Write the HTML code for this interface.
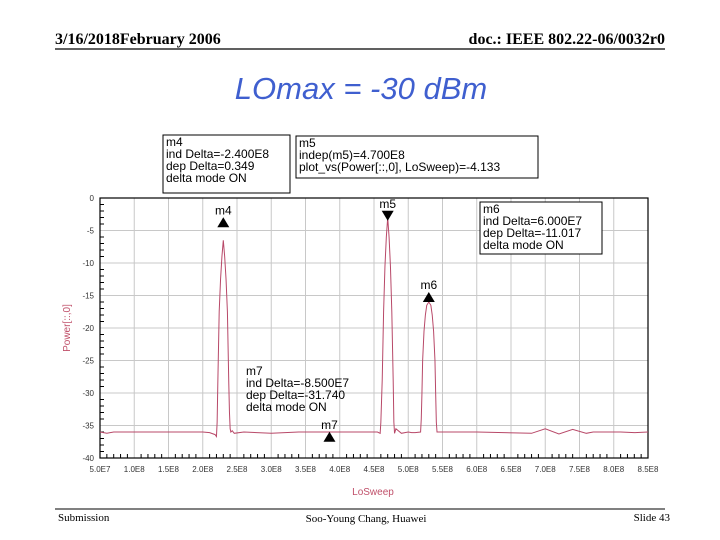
<!DOCTYPE html>
<html><head><meta charset="utf-8"><style>
body{margin:0;background:#fff;width:720px;height:540px;overflow:hidden;font-family:"Liberation Sans",sans-serif}
svg{display:block}
</style></head><body>
<svg width="720" height="540" xmlns="http://www.w3.org/2000/svg">
<text x="55" y="44" font-family="Liberation Serif" font-weight="bold" font-size="16">3/16/2018February 2006</text>
<text x="665" y="44" text-anchor="end" font-family="Liberation Serif" font-weight="bold" font-size="16">doc.: IEEE 802.22-06/0032r0</text>
<line x1="55" y1="49" x2="665" y2="49" stroke="#000" stroke-width="1.2"/>
<text x="361" y="99" text-anchor="middle" font-style="italic" font-size="31" fill="#3f5fcf">LOmax = -30 dBm</text>
<g id="chart"></g>
<line x1="55" y1="509" x2="665" y2="509" stroke="#000" stroke-width="1"/>
<text x="58" y="521" font-family="Liberation Serif" font-size="11">Submission</text>
<text x="366" y="522" text-anchor="middle" font-family="Liberation Serif" font-size="11">Soo-Young Chang, Huawei</text>
<text x="670" y="521" text-anchor="end" font-family="Liberation Serif" font-size="11">Slide 43</text>
</svg>
<script>
const xTicks=["5.0E7","1.0E8","1.5E8","2.0E8","2.5E8","3.0E8","3.5E8","4.0E8","4.5E8","5.0E8","5.5E8","6.0E8","6.5E8","7.0E8","7.5E8","8.0E8","8.5E8"];
const yTicks=[0,-5,-10,-15,-20,-25,-30,-35,-40];
const freqMHz=[50,60,70,160,200,210,218,220,221,222,224,226,228,230,232,234,236,238,239,240,241,243,246,260,300,340,380,420,455,459,460,462,464,466,468,470,472,474,476,478,479,480,482,490,500,505,510,518,519,520,521,523,525,527,530,533,535,537,539,540,541,542,544,600,680,700,720,740,760,770,790,810,830,850];
const powerDb=[-36,-36.2,-36,-36,-36,-36.1,-36.4,-36.7,-34.5,-28.5,-17.5,-12.5,-9,-6.5,-9,-12.5,-17.5,-28.5,-33,-35.5,-36,-35.8,-36.2,-36,-36.2,-36,-36,-36,-36,-36.2,-34.5,-28,-17.5,-10.5,-6,-3,-6,-10.5,-17.5,-28,-34.5,-36.2,-35.5,-36.2,-36,-36.1,-36.1,-36,-34,-30,-25,-20.5,-18,-16.5,-16,-16.5,-18,-20.5,-25,-30,-34.5,-36,-36,-36,-36.2,-35.5,-36.3,-35.6,-36.2,-36,-36,-36,-36.1,-36];
const markerNames=["m4","m5","m6","m7"];
const markerFreq=[230,470,530,385];
const markerPower=[-4.5,-3.5,-16,-37.5];
const markerDir=["up","down","up","up"];

const X0=100,X1=648,Y0=198,Y1=458;
const xs=f=>X0+(f-50)/800*(X1-X0);
const ys=p=>Y0+(0-p)/40*(Y1-Y0);
const NS="http://www.w3.org/2000/svg";
const g=document.getElementById('chart');
function mk(t,a,txt){const e=document.createElementNS(NS,t);for(const k in a)e.setAttribute(k,a[k]);if(txt!==undefined)e.textContent=txt;g.appendChild(e);return e;}
xTicks.forEach((t,i)=>{const x=X0+i*(X1-X0)/(xTicks.length-1);
 const l=mk('line',{x1:x,y1:Y0,x2:x,y2:Y1,stroke:'#c8c8c8','stroke-width':1});
 
 
 const tk=mk('text',{x:x,y:Y1+14,'text-anchor':'middle','font-size':8,fill:'#333'},t);
 
 
 for(let j=1;j<5&&i<xTicks.length-1;j++){const mx=x+j*(X1-X0)/(xTicks.length-1)/5;
  const m=mk('line',{x1:mx,y1:Y1,x2:mx,y2:Y1-4,stroke:'#000','stroke-width':1});
  
  }
});
yTicks.forEach(v=>{const y=ys(v);
 const l=mk('line',{x1:X0,y1:y,x2:X1,y2:y,stroke:'#c8c8c8','stroke-width':1});
 
 
 const tk=mk('text',{x:X0-6,y:y+3,'text-anchor':'end','font-size':8,fill:'#333'},String(v));
 
 
 if(v>-40)for(let j=1;j<5;j++){const my=y+j*(Y1-Y0)/40;
  const m=mk('line',{x1:X0,y1:my,x2:X0+4,y2:my,stroke:'#000','stroke-width':1});
  
  }
});
const fr=mk('rect',{x:X0,y:Y0,width:X1-X0,height:Y1-Y0,fill:'none',stroke:'#000','stroke-width':1.2});


const yt=mk('text',{x:0,y:0,transform:`translate(70,${(Y0+Y1)/2}) rotate(-90)`,'text-anchor':'middle','font-size':10,fill:'#c0506a'},'Power[::,0]');


const xt=mk('text',{x:373,y:495,'text-anchor':'middle','font-size':10,fill:'#c0506a'},'LoSweep');


const pl=mk('polyline',{points:freqMHz.map((f,i)=>xs(f)+','+ys(powerDb[i])).join(' '),fill:'none',stroke:'#b84868','stroke-width':1});


markerNames.forEach((n,i)=>{const x=xs(markerFreq[i]),y=ys(markerPower[i]);
 const pts=markerDir[i]=='up'?`${x-6},${y} ${x+6},${y} ${x},${y-10}`:`${x-6},${y-10} ${x+6},${y-10} ${x},${y}`;
 const t=mk('polygon',{points:pts,fill:'#000'});
 
 
 const lb=mk('text',{x:x,y:y-13,'text-anchor':'middle','font-size':12},n);
 
 
});
function box(name,x,y,w,h,lines,border){
 if(border){const r=mk('rect',{x:x,y:y,width:w,height:h,fill:'#fff',stroke:'#000','stroke-width':1});
  
  }
 lines.forEach((s,k)=>{const t=mk('text',{x:x+3,y:y+11+k*12,'font-size':12},s);
  
  });
}
box('m4-readout',163,135,127,58,['m4','ind Delta=-2.400E8','dep Delta=0.349','delta mode ON'],true);
box('m5-readout',296,136,242,42,['m5','indep(m5)=4.700E8','plot_vs(Power[::,0], LoSweep)=-4.133'],true);
box('m6-readout',480,202,122,52,['m6','ind Delta=6.000E7','dep Delta=-11.017','delta mode ON'],true);
box('m7-readout',243,364,130,50,['m7','ind Delta=-8.500E7','dep Delta=-31.740','delta mode ON'],false);
</script>
</body></html>
